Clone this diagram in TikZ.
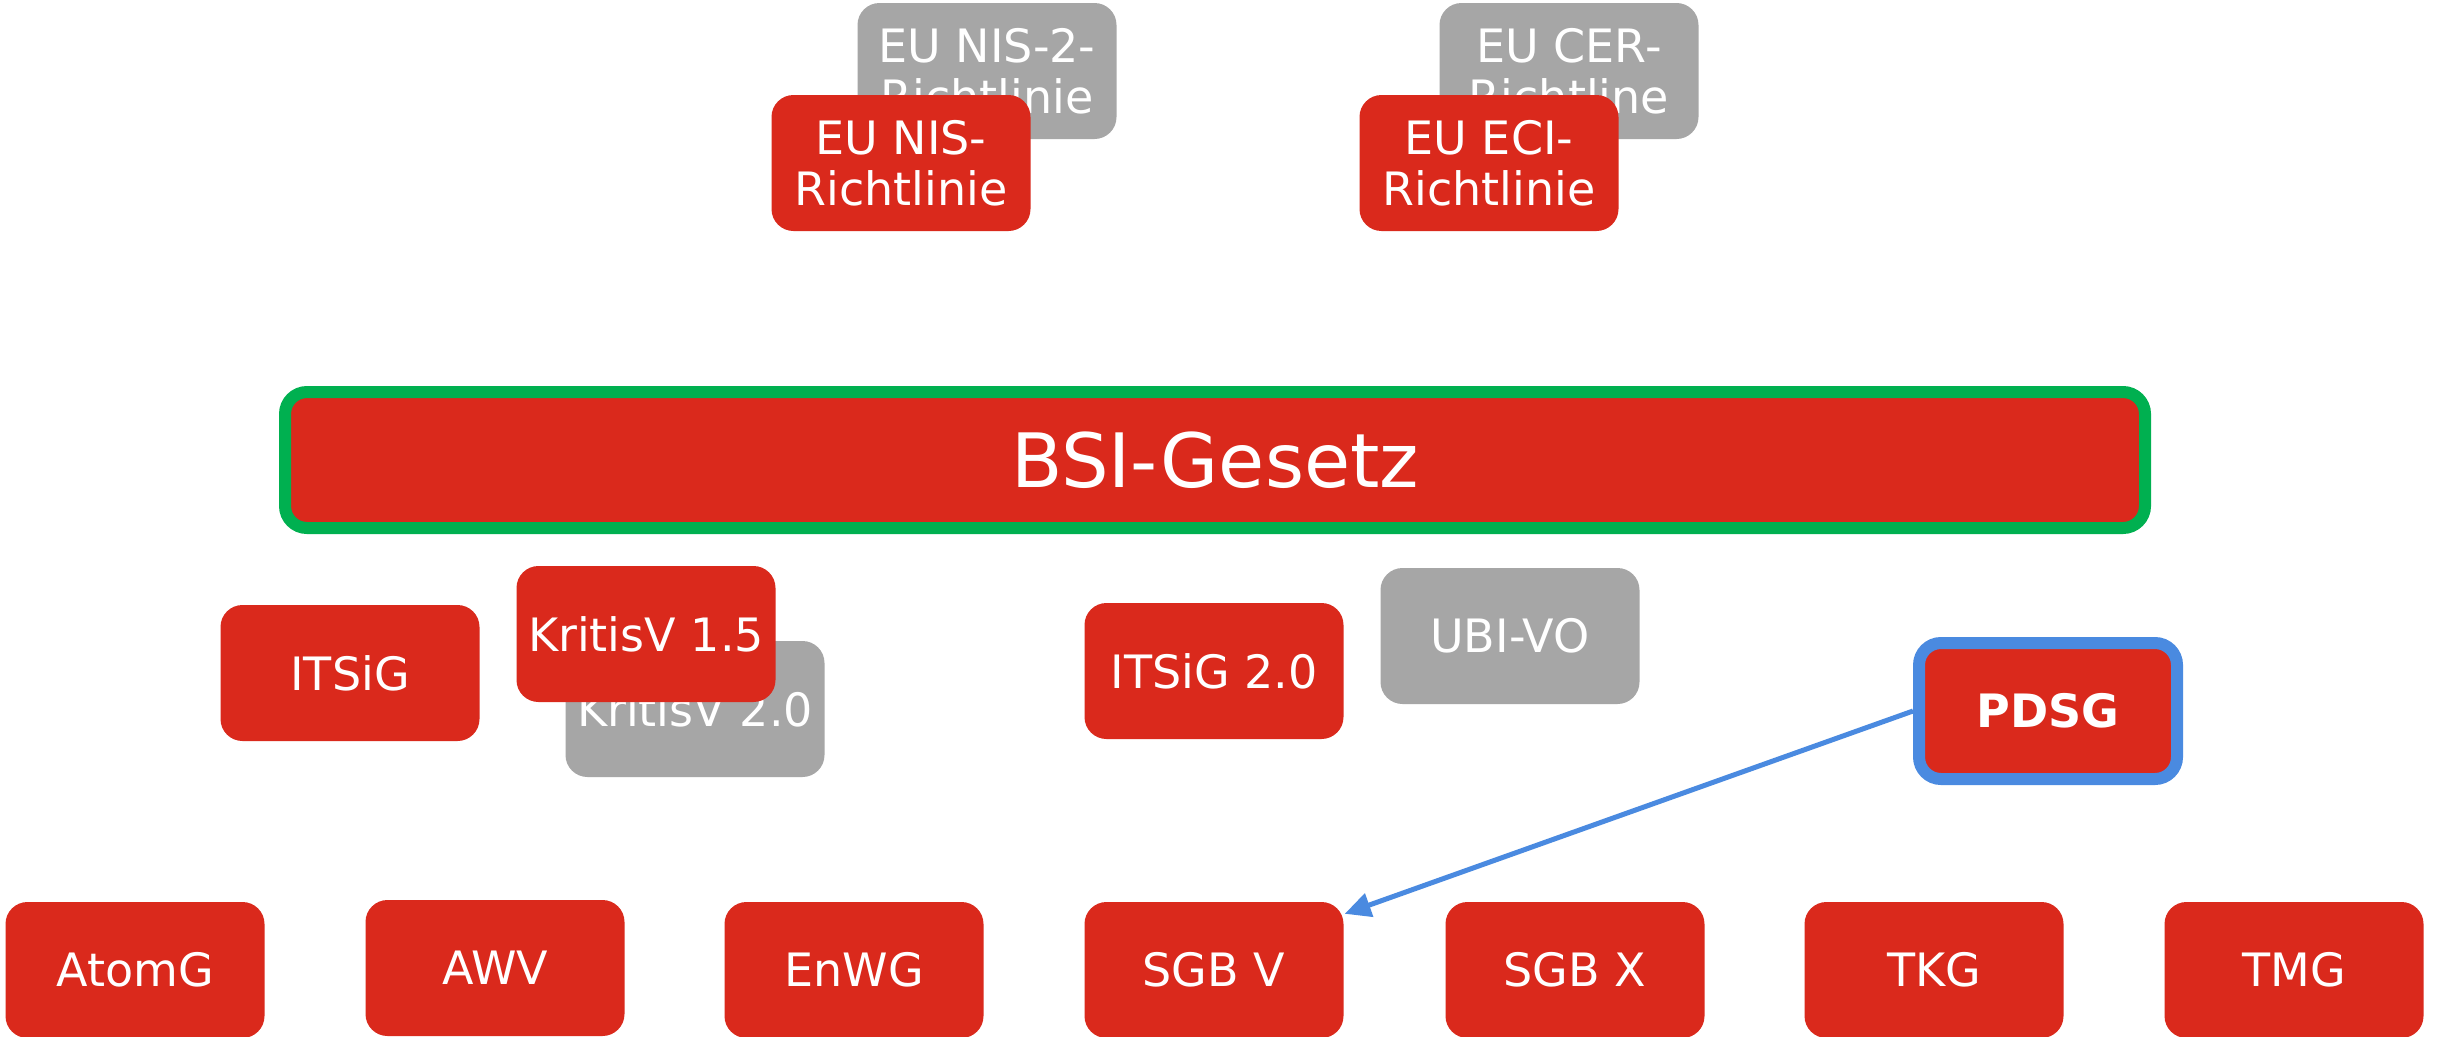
\documentclass[tikz,border=0pt]{standalone}
\usepackage{fontspec}
\setmainfont{DejaVu Sans}
\usetikzlibrary{arrows.meta}
\definecolor{myred}{RGB}{218,41,28}
\definecolor{mygrey}{RGB}{166,166,166}
\definecolor{mygreen}{RGB}{0,176,80}
\definecolor{myblue}{RGB}{74,138,224}
\tikzset{
  lawbox/.style={rectangle, rounded corners=22pt, minimum width=259pt, minimum height=136pt,
    inner sep=0pt, text=white, align=center, font=\fontsize{46}{51}\selectfont},
  redbox/.style={lawbox, fill=myred},
  greybox/.style={lawbox, fill=mygrey},
  linkarrow/.style={draw=myblue, line width=5pt, -{Triangle[length=26pt,width=24pt]}}
}
\begin{document}
\begin{tikzpicture}[x=1pt,y=-1pt]
\clip (0,0) rectangle (2440,1036);
\fill[white] (0,0) rectangle (2440,1036);
% EU level
\node[greybox] (nis2) at (987,71) {EU NIS-2-\\Richtlinie};
\node[redbox] (nis) at (901,163) {EU NIS-\\Richtlinie};
\node[greybox] (cer) at (1569,71) {EU CER-\\Richtline};
\node[redbox] (eci) at (1489,163) {EU ECI-\\Richtlinie};
% BSI-Gesetz
\node[redbox, draw=mygreen, line width=12pt, minimum width=1860pt, minimum height=136pt,
  font=\fontsize{75}{80}\selectfont] (bsi) at (1215,460) {BSI-Gesetz};
% middle row
\node[redbox] (itsig) at (350,673) {ITSiG};
\node[greybox] (kritis20) at (695,709) {KritisV 2.0};
\node[redbox] (kritis15) at (646,634) {KritisV 1.5};
\node[redbox] (itsig2) at (1214,671) {ITSiG 2.0};
\node[greybox] (ubivo) at (1510,636) {UBI-VO};
\node[redbox, draw=myblue, line width=12pt, minimum width=258pt, minimum height=136pt,
  font=\fontsize{46}{51}\selectfont\bfseries] (pdsg) at (2048,711) {PDSG};
% bottom row
\node[redbox] (atomg) at (135,970) {AtomG};
\node[redbox] (awv) at (495,968) {AWV};
\node[redbox] (enwg) at (854,970) {EnWG};
\node[redbox] (sgbv) at (1214,970) {SGB V};
\node[redbox] (sgbx) at (1575,970) {SGB X};
\node[redbox] (tkg) at (1934,970) {TKG};
\node[redbox] (tmg) at (2294,970) {TMG};
% connector
\draw[linkarrow] (pdsg.west) -- ([xshift=1pt,yshift=-12pt]sgbv.north east);
\end{tikzpicture}
\end{document}
